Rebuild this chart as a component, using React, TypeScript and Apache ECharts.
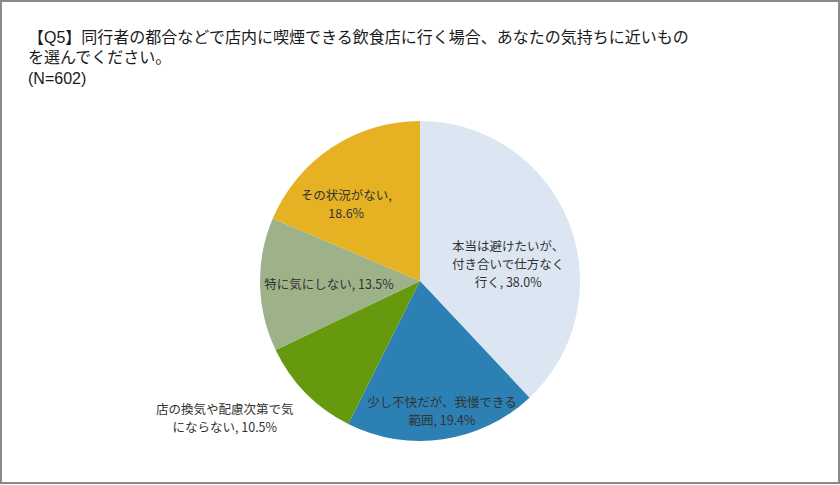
import React, { useEffect, useRef } from 'react'
import * as echarts from 'echarts'

const titleLines = [
  '【Q5】同行者の都合などで店内に喫煙できる飲食店に行く場合、あなたの気持ちに近いもの',
  'を選んでください。',
  '(N=602)'
]

// clockwise from 12 o'clock
const categories = [
  '本当は避けたいが、\n付き合いで仕方なく\n行く',
  '少し不快だが、我慢できる\n範囲',
  '店の換気や配慮次第で気\nにならない',
  '特に気にしない',
  'その状況がない'
]
const separators = [', ', ', ', ', ', ', ', ',\n']
const values = [38.0, 19.4, 10.5, 13.5, 18.6]
const colors = ['#dce6f2', '#2c80b4', '#67990f', '#9db288', '#e6b123']

// shift of each label from its default inside spot
const labelShift = [
  [11, 13],
  [10, 47],
  [-136, 78],
  [-8, 1],
  [-28, -8]
]

const FONT = '"Noto Sans CJK JP", "Noto Sans", sans-serif'
const TITLE_FONT = '"Liberation Sans", "Noto Sans CJK JP", sans-serif'

const App: React.FC = () => {
  const chartRef = useRef<HTMLDivElement>(null)

  useEffect(() => {
    document.body.style.margin = '0'
    if (!chartRef.current) return
    const chart = echarts.init(chartRef.current, undefined, { renderer: 'svg' })

    const option: echarts.EChartsOption = {
      animation: false,
      backgroundColor: '#ffffff',
      title: titleLines.map((text, i) => ({
        text,
        left: 28,
        top: 28 + i * 20.5,
        padding: 0,
        textStyle: {
          fontFamily: TITLE_FONT,
          fontSize: 16,
          fontWeight: 'normal',
          color: '#1a1a1a',
          lineHeight: 18
        }
      })),
      graphic: [
        {
          type: 'rect',
          shape: { x: 1, y: 1, width: 838, height: 482 },
          style: { fill: 'none', stroke: '#8a8a8a', lineWidth: 2 },
          silent: true
        }
      ],
      series: [
        {
          type: 'pie',
          center: [420, 281],
          radius: 160,
          startAngle: 90,
          clockwise: true,
          data: categories.map((name, i) => ({
            name,
            value: values[i],
            itemStyle: { color: colors[i] }
          })),
          itemStyle: { borderWidth: 0 },
          label: {
            show: true,
            position: 'inside',
            fontFamily: FONT,
            fontSize: 12.5,
            lineHeight: 18,
            color: '#333333',
            align: 'center',
            formatter: (p: any) =>
              `${p.name}${separators[p.dataIndex]}${values[p.dataIndex].toFixed(1)}%`
          },
          labelLine: { show: false },
          labelLayout: (p: any) => ({
            dx: labelShift[p.dataIndex][0],
            dy: labelShift[p.dataIndex][1]
          }),
          emphasis: { disabled: true }
        }
      ]
    }

    chart.setOption(option)
    return () => {
      chart.dispose()
    }
  }, [])

  return <div ref={chartRef} style={{ width: 840, height: 485 }} />
}

export default App
